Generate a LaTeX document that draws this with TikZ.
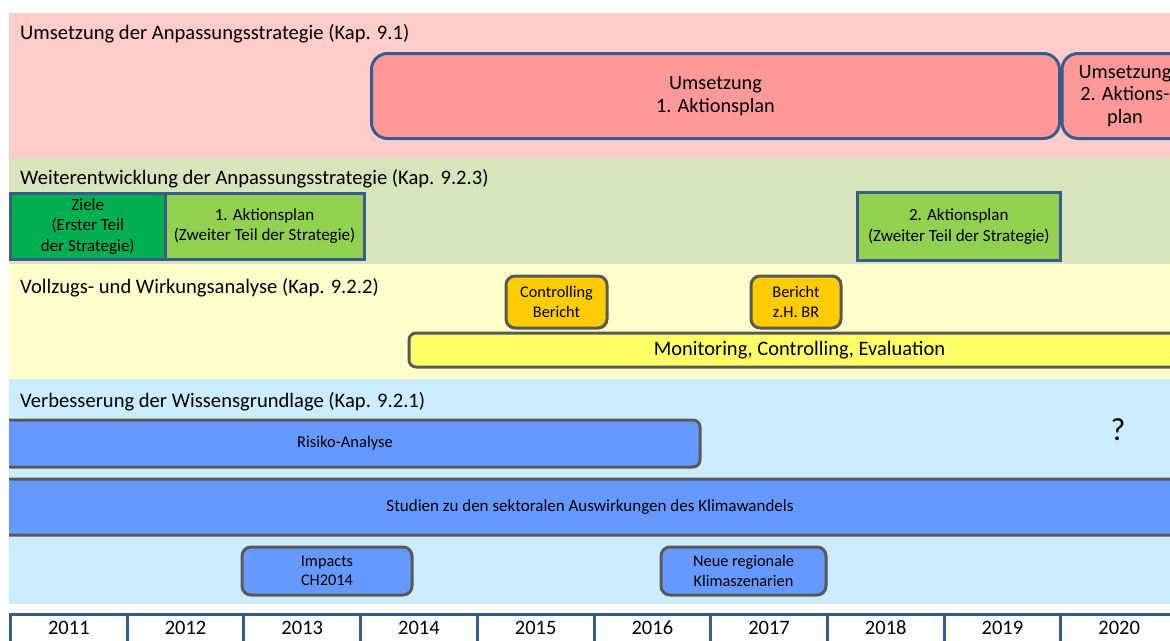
\documentclass[tikz,border=0pt]{standalone}
\usepackage{fontspec}
\setmainfont{Carlito}
\usetikzlibrary{positioning}
\definecolor{frameblue}{RGB}{56,93,138}
\definecolor{framegray}{RGB}{89,89,89}
\definecolor{bandred}{RGB}{255,204,204}
\definecolor{boxred}{RGB}{255,153,153}
\definecolor{bandgreen}{RGB}{216,228,188}
\definecolor{boxdarkgreen}{RGB}{0,176,80}
\definecolor{boxgreen}{RGB}{146,208,80}
\definecolor{bandyellow}{RGB}{255,255,204}
\definecolor{boxorange}{RGB}{255,204,0}
\definecolor{boxyellow}{RGB}{255,255,102}
\definecolor{bandblue}{RGB}{204,236,255}
\definecolor{boxblue}{RGB}{102,153,255}
\tikzset {
    band/.style={anchor=north west, inner sep=0pt, outer sep=0pt},
    bandtitle/.style={anchor=base west, inner sep=0pt, font=\fontsize{20.6}{24}\selectfont},
    planbox/.style={anchor=north west, outer sep=0pt, draw=frameblue, line width=3pt,
        fill=boxred, rounded corners=16pt, align=center, font=\fontsize{20.3}{22.5}\selectfont},
    stratbox/.style={anchor=north west, outer sep=0pt, draw=frameblue, line width=3pt,
        fill=boxgreen, align=center, font=\fontsize{17}{20.5}\selectfont},
    eventbox/.style={anchor=north west, outer sep=0pt, draw=framegray, line width=3pt,
        rounded corners=9pt, align=center, font=\fontsize{16.3}{19.5}\selectfont},
    bar/.style={anchor=north west, outer sep=0pt, draw=framegray, line width=3pt,
        rounded corners=7pt, align=center, font=\fontsize{17}{20}\selectfont},
    yearcell/.style={anchor=north west, outer sep=0pt, draw=frameblue, line width=3pt,
        fill=white, minimum width=116.7pt, minimum height=40pt, inner sep=0pt,
        text height=13pt, text depth=14pt, font=\fontsize{20.5}{24}\selectfont}
}

\begin{document}
\begin{tikzpicture}[x=1pt, y=-1pt]
    \useasboundingbox[fill=white] (0,0) rectangle (1170,640);
    \clip (9,0) rectangle (1170,640);

    \node[band, fill=bandred, minimum width=1161pt, minimum height=145pt] (redband) at (9,13) {};
    \node[band, fill=bandgreen, minimum width=1161pt, minimum height=106pt] (greenband) at (9,158) {};
    \node[band, fill=bandyellow, minimum width=1161pt, minimum height=115pt] (yellowband) at (9,264) {};
    \node[band, fill=bandblue, minimum width=1161pt, minimum height=225pt] (blueband) at (9,379) {};

    \node[bandtitle] (t91) at (20,39) {Umsetzung der Anpassungsstrategie (Kap. 9.1)};
    \node[bandtitle] (t923) at (20,184) {Weiterentwicklung der Anpassungsstrategie (Kap. 9.2.3)};
    \node[bandtitle] (t922) at (20,293) {Vollzugs- und Wirkungsanalyse (Kap. 9.2.2)};
    \node[bandtitle] (t921) at (20,407) {Verbesserung der Wissensgrundlage (Kap. 9.2.1)};

    \node[planbox, minimum width=688pt, minimum height=85pt] (ums1) at (371.5,53.5) {Umsetzung\\[0.5pt]1. Aktionsplan};
    \node[planbox, minimum width=126pt, minimum height=85pt] (ums2) at (1062,53.5) {Umsetzung\\2. Aktions-\\plan};

    \node[stratbox, fill=boxdarkgreen, minimum width=154.5pt, minimum height=65.5pt] (ziele) at (10.5,193.5) {Ziele\\(Erster Teil\\der Strategie)};
    \node[stratbox, minimum width=199pt, minimum height=65.5pt, right=0pt of ziele] (aplan1) {1. Aktionsplan\\(Zweiter Teil der Strategie)};
    \node[stratbox, minimum width=202.5pt, minimum height=68pt] (aplan2) at (857.5,192.5) {2. Aktionsplan\\(Zweiter Teil der Strategie)};

    \node[eventbox, fill=boxorange, minimum width=101pt, minimum height=52pt] (ctrl) at (506,276) {Controlling\\Bericht};
    \node[eventbox, fill=boxorange, minimum width=90pt, minimum height=52pt] (bericht) at (751,276) {Bericht\\z.H. BR};
    \node[bar, fill=boxyellow, minimum width=781pt, minimum height=34pt, font=\fontsize{20.5}{24}\selectfont] (monitor) at (409,333) {Monitoring, Controlling, Evaluation};

    \node[bar, fill=boxblue, minimum width=710pt, minimum height=47pt, font=\fontsize{16.5}{20}\selectfont] (risiko) at (-10,420) {Risiko-Analyse};
    \node[inner sep=0pt, font=\fontsize{32}{34}\selectfont] (frage) at (1118,430) {?};
    \node[bar, fill=boxblue, minimum width=1200pt, minimum height=56pt] (studien) at (-10,479) {Studien zu den sektoralen Auswirkungen des Klimawandels};
    \node[eventbox, fill=boxblue, minimum width=170pt, minimum height=48pt] (impacts) at (242,547) {Impacts\\CH2014};
    \node[eventbox, fill=boxblue, minimum width=165pt, minimum height=48pt] (szen) at (661,547) {Neue regionale\\Klimaszenarien};

    \node[yearcell] (y2011) at (10.5,614.5) {2011};
    \node[yearcell, right=0pt of y2011] (y2012) {2012};
    \node[yearcell, right=0pt of y2012] (y2013) {2013};
    \node[yearcell, right=0pt of y2013] (y2014) {2014};
    \node[yearcell, right=0pt of y2014] (y2015) {2015};
    \node[yearcell, right=0pt of y2015] (y2016) {2016};
    \node[yearcell, right=0pt of y2016] (y2017) {2017};
    \node[yearcell, right=0pt of y2017] (y2018) {2018};
    \node[yearcell, right=0pt of y2018] (y2019) {2019};
    \node[yearcell, right=0pt of y2019] (y2020) {2020};
\end{tikzpicture}
\end{document}
